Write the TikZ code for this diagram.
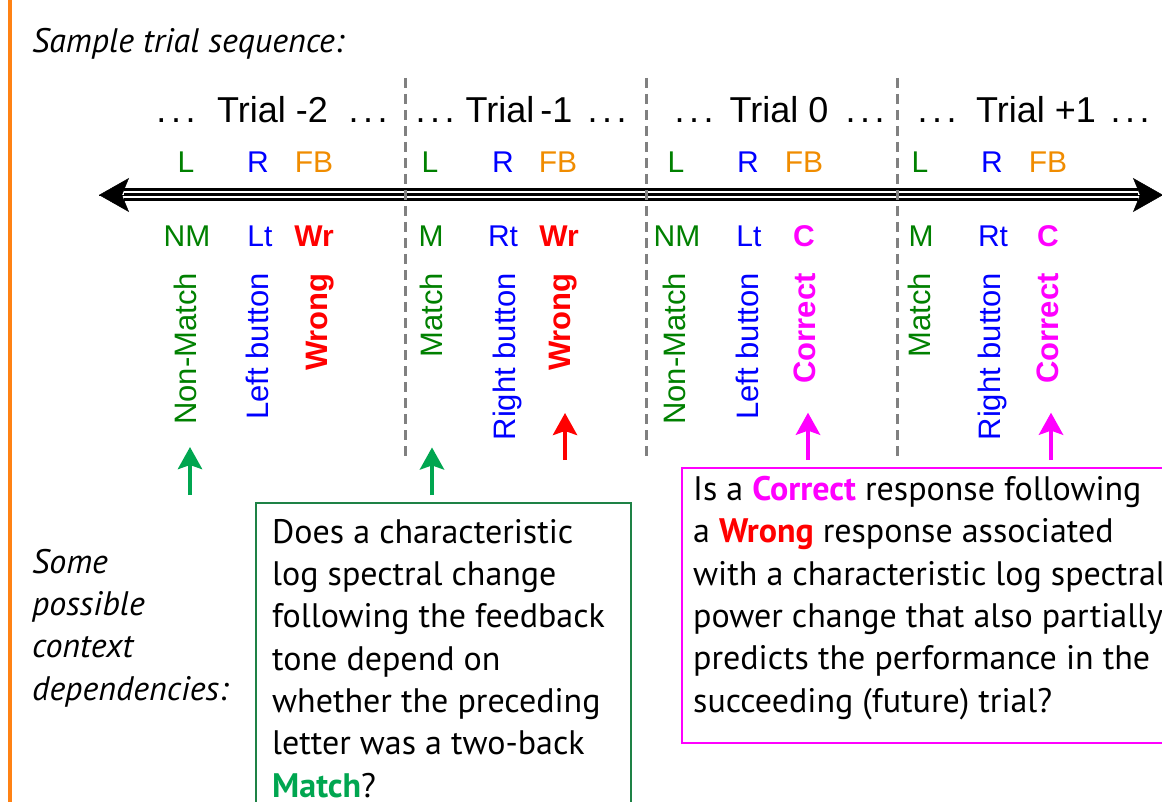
\documentclass[tikz,border=0pt]{standalone}
\usepackage{fontspec}
\setmainfont{Liberation Sans}
\newfontfamily\qfont{PT Sans}
\usetikzlibrary{arrows.meta}

\definecolor{lgreen}{RGB}{0,128,0}
\definecolor{agreen}{RGB}{0,166,80}
\definecolor{bgreen}{RGB}{30,130,70}
\definecolor{lblue}{RGB}{0,0,255}
\definecolor{fborange}{RGB}{240,140,0}
\definecolor{sideorange}{RGB}{255,130,20}
\definecolor{lred}{RGB}{255,0,0}
\definecolor{lmag}{RGB}{255,0,255}
\definecolor{sepgray}{RGB}{128,128,128}

\newcommand\tdots{.\kern4.5pt.\kern4.5pt.}

\begin{document}
\begin{tikzpicture}[x=1pt,y=-1pt,
  trial/.style={font=\fontsize{36}{40}\selectfont, anchor=base, inner sep=0},
  ev/.style={font=\fontsize{30}{34}\selectfont, anchor=base, inner sep=0},
  evb/.style={font=\fontsize{30}{34}\selectfont\bfseries, anchor=base, inner sep=0},
  vlab/.style={font=\fontsize{31}{34}\selectfont, rotate=90, anchor=base east, inner sep=0},
  vlabb/.style={vlab, font=\fontsize{31}{34}\selectfont\bfseries},
  note/.style={font=\qfont\itshape\fontsize{34}{42.3}\selectfont, anchor=base west, align=left, inner sep=0},
  qtext/.style={font=\qfont\fontsize{34}{42.3}\selectfont, anchor=base west, align=left, inner sep=0},
  qbox/.style={draw, anchor=north west, inner sep=0},
  sep/.style={draw=sepgray, line width=3, dash pattern=on 10 off 6},
  evarrow/.style={line width=4.5, -{Stealth[length=22,width=24,inset=4]}},
  tline/.style={line width=3},
  thead/.style={line width=0.5, -{Stealth[length=30,width=34,inset=7]}}
]
\useasboundingbox (0,0) rectangle (1162,802);
\clip (0,0) rectangle (1162,802);

% side rule
\draw[sideorange, line width=3.4] (10,-5) -- (10,810);

% captions (multi-line nodes are placed by the baseline of their last line)
\node[note] (caption) at (32,53) {Sample trial sequence:};
\node[note] (ctx) at (32,700) {Some\\possible\\context\\dependencies:};

% time axis: three parallel strokes with a head at each end
\coordinate (tl) at (99,195);
\coordinate (tr) at (1163,195);
\foreach \dy in {-5,0,5}
  \draw[tline, shorten <=25, shorten >=25] ([yshift=\dy]tl) -- ([yshift=\dy]tr);
\draw[thead] (tl) -- (tr);
\draw[thead] (tr) -- (tl);

% trial separators
\foreach \x in {405,646,897}
  \draw[sep] (\x,78) -- (\x,458);

% trial headings
\node[trial] (d1a) at (176,123) {\tdots};
\node[trial] (t-2) at (272.5,123) {Trial -2};
\node[trial] (d1b) at (368,123) {\tdots};
\node[trial] (d2a) at (435,123) {\tdots};
\node[trial] (t-1) at (519,123) {Trial\kern6pt-1};
\node[trial] (d2b) at (607,123) {\tdots};
\node[trial] (d3a) at (694,123) {\tdots};
\node[trial] (t0) at (779,123) {Trial 0};
\node[trial] (d3b) at (865,123) {\tdots};
\node[trial] (d4a) at (937,123) {\tdots};
\node[trial] (t+1) at (1036,123) {Trial +1};
\node[trial] (d4b) at (1130,123) {\tdots};

% event row above the axis
\foreach \n/\l/\r/\f in {a/186/258/314, b/430/503/558, c/676/748/804, d/920/992/1048}{
  \node[ev, text=lgreen] (L\n) at (\l,173) {L};
  \node[ev, text=lblue] (R\n) at (\r,173) {R};
  \node[ev, text=fborange] (FB\n) at (\f,173) {FB};
}

% event codes below the axis
\node[ev, text=lgreen] (cLa) at (187,247) {NM};
\node[ev, text=lblue] (cRa) at (260,247) {Lt};
\node[evb, text=lred] (cFa) at (314,247) {Wr};
\node[ev, text=lgreen] (cLb) at (431,247) {M};
\node[ev, text=lblue] (cRb) at (503,247) {Rt};
\node[evb, text=lred] (cFb) at (559,247) {Wr};
\node[ev, text=lgreen] (cLc) at (677,247) {NM};
\node[ev, text=lblue] (cRc) at (749,247) {Lt};
\node[evb, text=lmag] (cFc) at (804,247) {C};
\node[ev, text=lgreen] (cLd) at (921,247) {M};
\node[ev, text=lblue] (cRd) at (993,247) {Rt};
\node[evb, text=lmag] (cFd) at (1048,247) {C};

% spelled-out events
\node[vlab, text=lgreen] (vLa) at (196,273) {Non-Match};
\node[vlab, text=lblue] (vRa) at (268,273) {Left button};
\node[vlabb, text=lred] (vFa) at (327,273) {Wrong};
\node[vlab, text=lgreen] (vLb) at (442,273) {Match};
\node[vlab, text=lblue] (vRb) at (515,273) {Right button};
\node[vlabb, text=lred] (vFb) at (570,273) {Wrong};
\node[vlab, text=lgreen] (vLc) at (685,273) {Non-Match};
\node[vlab, text=lblue] (vRc) at (758,273) {Left button};
\node[vlabb, text=lmag] (vFc) at (815,273) {Correct};
\node[vlab, text=lgreen] (vLd) at (930,273) {Match};
\node[vlab, text=lblue] (vRd) at (1000,273) {Right button};
\node[vlabb, text=lmag] (vFd) at (1058,273) {Correct};

% pointers to the events in question
\coordinate (pg1) at (190,495);
\coordinate (pg2) at (432,495);
\coordinate (pr1) at (565,460);
\coordinate (pm1) at (808,460);
\coordinate (pm2) at (1051,460);
\draw[evarrow, agreen, shorten >=22] (pg1) -- (pg1 |- vLa.west);
\draw[evarrow, agreen, shorten >=89.6] (pg2) -- (pg2 |- vLb.west);
\draw[evarrow, lred, shorten >=42] (pr1) -- (pr1 |- vFb.west);
\draw[evarrow, lmag, shorten >=29] (pm1) -- (pm1 |- vFc.west);
\draw[evarrow, lmag, shorten >=29] (pm2) -- (pm2 |- vFd.west);

% question boxes
\node[qbox, draw=bgreen, line width=1.5, minimum width=375, minimum height=360] (gbox) at (255,502) {};
\node[qtext] (gq) at (272,797) {Does a characteristic\\log spectral change\\following the feedback\\tone depend on\\whether the preceding\\letter was a two-back\\{\bfseries\color{agreen}Match}?};

\node[qbox, draw=lmag, line width=2, minimum width=560, minimum height=275] (mbox) at (681,467) {};
\node[qtext] (mq) at (693,712) {Is a {\bfseries\color{lmag}Correct} response following\\a {\bfseries\color{lred}Wrong} response associated\\with a characteristic log spectral\\power change that also partially\\predicts the performance in the\\succeeding (future) trial?};
\end{tikzpicture}
\end{document}
